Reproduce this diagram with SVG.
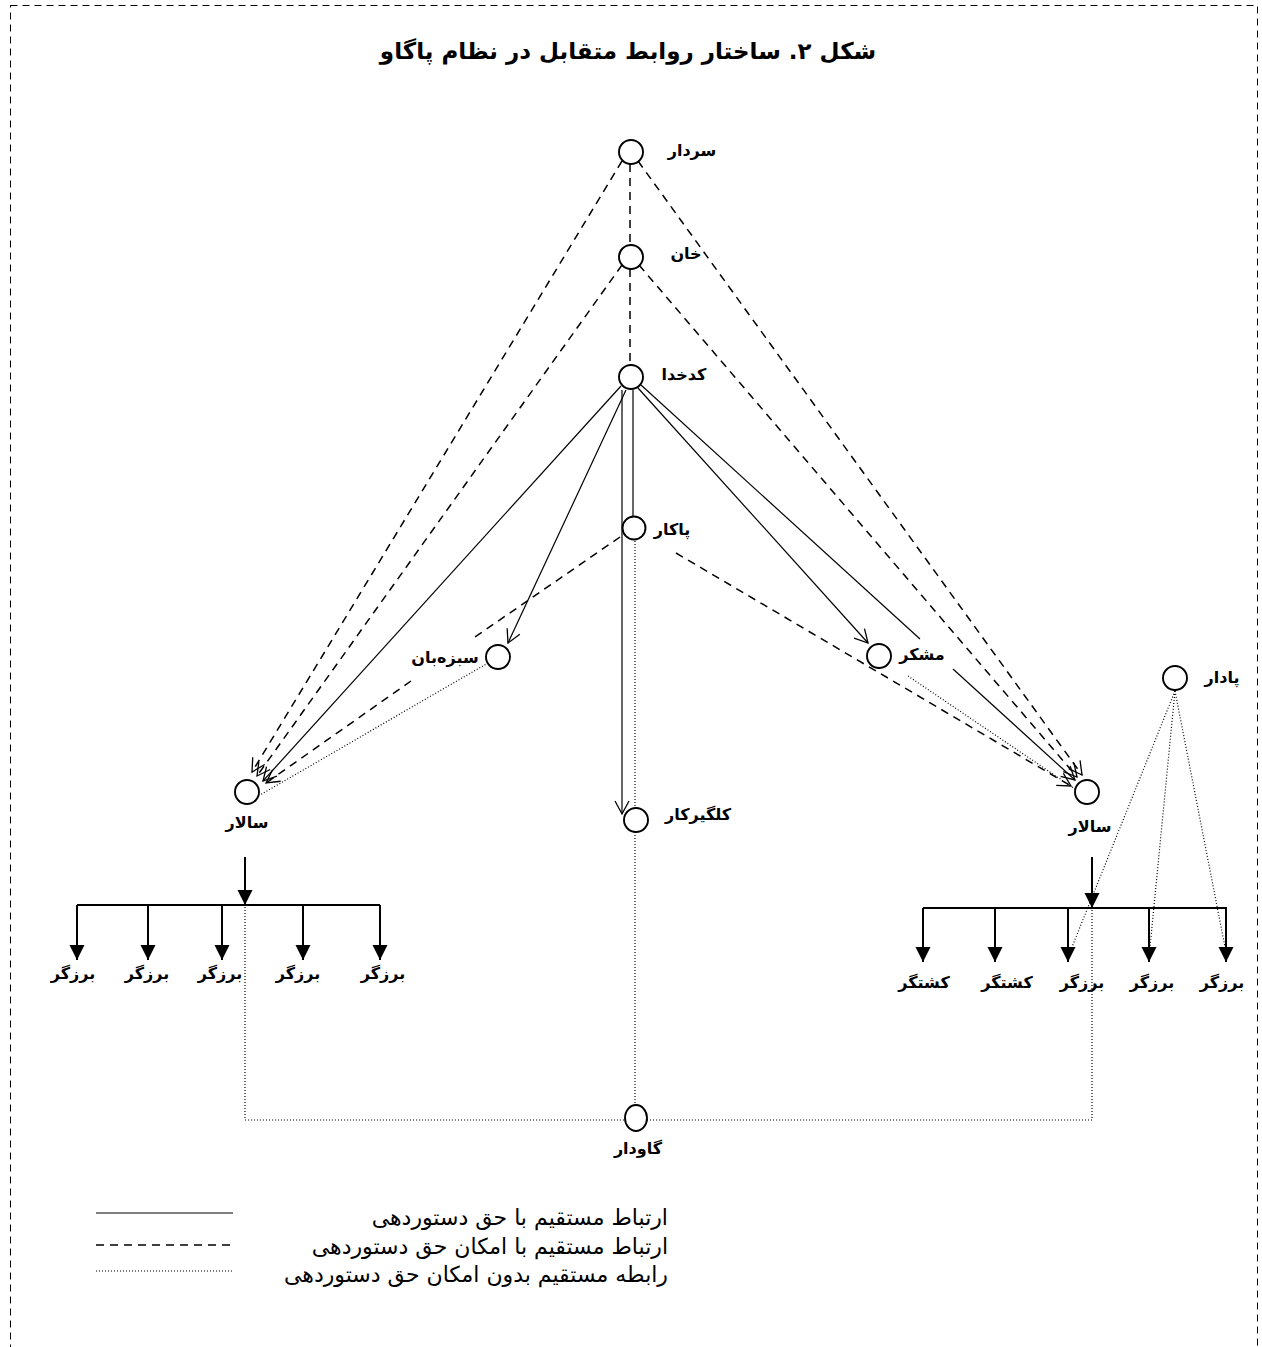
<svg xmlns="http://www.w3.org/2000/svg" width="1262" height="1347" viewBox="0 0 1262 1347">
  <style>
    .node { fill: #fff; stroke: #000; stroke-width: 1.9; }
    .lbl { font-family: "DejaVu Sans", "Liberation Serif", serif; font-weight: bold; font-size: 16px; fill: #000; text-anchor: middle; dominant-baseline: central; direction: rtl; }
    .title { font-family: "DejaVu Sans", "Liberation Serif", serif; font-weight: bold; font-size: 23px; fill: #000; text-anchor: middle; direction: rtl; }
    .legend { font-family: "DejaVu Sans", "Liberation Serif", serif; font-size: 22px; fill: #000; text-anchor: start; direction: rtl; dominant-baseline: central; }
    .solid { fill: none; stroke: #000; stroke-width: 1.2; }
    .dash { fill: none; stroke: #000; stroke-width: 1.5; stroke-dasharray: 8 6; }
    .dot { fill: none; stroke: #000; stroke-width: 1.2; stroke-dasharray: 1 2; }
    .tree { fill: none; stroke: #000; stroke-width: 2; }
  </style>
  <defs>
    <marker id="open" markerUnits="userSpaceOnUse" markerWidth="16" markerHeight="16" refX="13" refY="7" orient="auto" overflow="visible">
      <path d="M0,0 L13,7 L0,14" fill="none" stroke="#000" stroke-width="1.3" stroke-dasharray="none"/>
    </marker>
    <marker id="fill" markerUnits="userSpaceOnUse" markerWidth="16" markerHeight="16" refX="15" refY="7.5" orient="auto" overflow="visible">
      <path d="M0,0 L15,7.5 L0,15 z" fill="#000" stroke="none"/>
    </marker>
  </defs>

  <!-- frame -->
  <rect x="10.5" y="5.5" width="1247" height="1370" fill="none" stroke="#000" stroke-width="1" stroke-dasharray="7 5"/>

  <text class="title" x="628" y="59">شکل ۲. ساختار روابط متقابل در نظام پاگاو</text>

  <g id="connectors">
    <!-- dashed: command possible -->
    <path class="dash" d="M630,164 V244"/>
    <path class="dash" d="M630,269 V365"/>
    <path class="dash" d="M622,161 L252,772" marker-end="url(#open)"/>
    <path class="dash" d="M638,161 L1082,775" marker-end="url(#open)"/>
    <path class="dash" d="M622,265 L257,776" marker-end="url(#open)"/>
    <path class="dash" d="M639,265 L1077,777" marker-end="url(#open)"/>
    <path class="dash" d="M620,537 L475,637"/>
    <path class="dash" d="M411,681 L266,783" marker-end="url(#open)"/>
    <path class="dash" d="M676,553 L1071,786" marker-end="url(#open)"/>

    <!-- solid: direct command -->
    <path class="solid" d="M621,386 L263,781" marker-end="url(#open)"/>
    <path class="solid" d="M626,390 L508,643" marker-end="url(#open)"/>
    <path class="solid" d="M622,390 L622,814" marker-end="url(#open)"/>
    <path class="solid" d="M633,390 V516"/>
    <path class="solid" d="M638,388 L868,643" marker-end="url(#open)"/>
    <path class="solid" d="M641,385 L920,639"/>
    <path class="solid" d="M953,669 L1075,780" marker-end="url(#open)"/>

    <!-- dotted: no command -->
    <path class="dot" d="M488,663 L260,795"/>
    <path class="dot" d="M908,676 L1075,789"/>
    <path class="dot" d="M635,541 V1105"/>
    <path class="dot" d="M1175,691 L1072,947"/>
    <path class="dot" d="M1175,691 L1150,947"/>
    <path class="dot" d="M1175,691 L1225,947"/>
    <path class="dot" d="M245,907 V1120 H1092 V908"/>

    <!-- left work group -->
    <path class="tree" d="M245,857 V905" marker-end="url(#fill)"/>
    <path class="tree" d="M77,905 H380"/>
    <path class="tree" d="M77,905 V960" marker-end="url(#fill)"/>
    <path class="tree" d="M148,905 V960" marker-end="url(#fill)"/>
    <path class="tree" d="M222,905 V960" marker-end="url(#fill)"/>
    <path class="tree" d="M303,905 V960" marker-end="url(#fill)"/>
    <path class="tree" d="M380,905 V960" marker-end="url(#fill)"/>

    <!-- right work group -->
    <path class="tree" d="M1092,857 V908" marker-end="url(#fill)"/>
    <path class="tree" d="M923,908 H1227"/>
    <path class="tree" d="M923,908 V962" marker-end="url(#fill)"/>
    <path class="tree" d="M995,908 V962" marker-end="url(#fill)"/>
    <path class="tree" d="M1068,908 V962" marker-end="url(#fill)"/>
    <path class="tree" d="M1149,908 V962" marker-end="url(#fill)"/>
    <path class="tree" d="M1226,908 V962" marker-end="url(#fill)"/>
  </g>

  <g id="sardar"><circle class="node" cx="631" cy="152" r="12"/><text class="lbl" x="692" y="150">سردار</text></g>
  <g id="khan"><circle class="node" cx="631" cy="257" r="12"/><text class="lbl" x="686" y="253">خان</text></g>
  <g id="kadkhoda"><circle class="node" cx="631" cy="377" r="12"/><text class="lbl" x="684" y="374">کدخدا</text></g>
  <g id="pakar"><circle class="node" cx="634" cy="528" r="11.5"/><text class="lbl" x="672" y="529">پاکار</text></g>
  <g id="sabzeban"><circle class="node" cx="498" cy="657" r="12"/><text class="lbl" x="445" y="657">سبزه&#x200C;بان</text></g>
  <g id="moshkor"><circle class="node" cx="879" cy="656" r="12"/><text class="lbl" x="922" y="654">مشکر</text></g>
  <g id="padar"><circle class="node" cx="1175" cy="678" r="12"/><text class="lbl" x="1222" y="677">پادار</text></g>
  <g id="salar-left"><circle class="node" cx="247" cy="792" r="12"/><text class="lbl" x="247" y="822">سالار</text></g>
  <g id="kalgirkar"><circle class="node" cx="636" cy="820" r="12"/><text class="lbl" x="698" y="814">کلگیرکار</text></g>
  <g id="salar-right"><circle class="node" cx="1087" cy="792" r="12"/><text class="lbl" x="1090" y="826">سالار</text></g>
  <g id="gavdar"><ellipse class="node" cx="636" cy="1118" rx="11" ry="13"/><text class="lbl" x="638" y="1148">گاودار</text></g>

  <g id="workers-left">
    <text class="lbl" x="73" y="973">برزگر</text>
    <text class="lbl" x="147" y="973">برزگر</text>
    <text class="lbl" x="220" y="973">برزگر</text>
    <text class="lbl" x="298" y="973">برزگر</text>
    <text class="lbl" x="383" y="973">برزگر</text>
  </g>
  <g id="workers-right">
    <text class="lbl" x="924" y="982">کشتگر</text>
    <text class="lbl" x="1007" y="982">کشتگر</text>
    <text class="lbl" x="1082" y="982">برزگر</text>
    <text class="lbl" x="1152" y="982">برزگر</text>
    <text class="lbl" x="1222" y="982">برزگر</text>
  </g>

  <g id="legend">
    <path class="solid" d="M96,1213 H233" stroke-width="1.5"/>
    <path class="dash" d="M96,1245 H233" stroke-width="1.2"/>
    <path class="dot" d="M96,1271 H233"/>
    <text class="legend" x="668" y="1217">ارتباط مستقیم با حق دستوردهی</text>
    <text class="legend" x="668" y="1246">ارتباط مستقیم با امکان حق دستوردهی</text>
    <text class="legend" x="668" y="1274">رابطه مستقیم بدون امکان حق دستوردهی</text>
  </g>
</svg>
